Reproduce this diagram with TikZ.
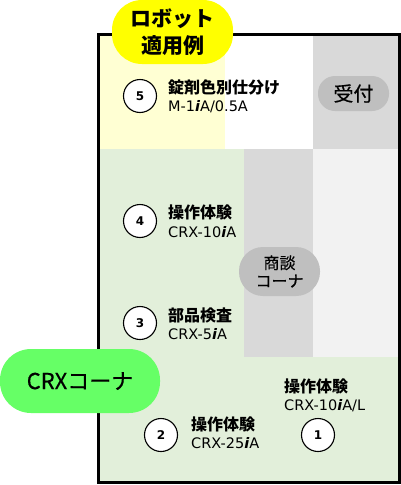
\documentclass[tikz,border=0pt]{standalone}
\usepackage{fontspec}
\setmainfont{DejaVu Sans}
\newfontfamily\jpfont{Noto Sans CJK JP}
\newfontfamily\jpmed{Noto Sans CJK JP}[FakeBold=0.4]
\definecolor{paleyellow}{HTML}{FFFFD3}
\definecolor{palegreen}{HTML}{E2EFDA}
\definecolor{zonegray}{HTML}{D9D9D9}
\definecolor{palegray}{HTML}{F2F2F2}
\definecolor{pillgray}{HTML}{BFBFBF}
\definecolor{badgeyellow}{HTML}{FFFF00}
\definecolor{crxgreen}{HTML}{66FF66}
\newcommand{\ri}{{\bfseries\itshape i}}

\begin{document}
\begin{tikzpicture}[x=1pt, y=-1pt,
    num/.style={circle, draw, line width=1.1pt, fill=white, minimum size=33pt, inner sep=0pt, font=\bfseries\fontsize{12}{12}\selectfont},
    title/.style={anchor=base west, inner sep=0pt, font=\jpfont\bfseries\fontsize{16}{16}\selectfont},
    model/.style={anchor=base west, inner sep=0pt, font=\fontsize{14.5}{14.5}\selectfont},
    pill/.style={rounded corners=#1, inner sep=0pt, align=center}
]
\useasboundingbox (0,0) rectangle (400,485);

% Floor zones
\fill[paleyellow] (98,34) rectangle (225,149);
\fill[white] (225,34) rectangle (313,149);
\fill[zonegray] (313,34) rectangle (399,149);
\fill[palegreen] (98,149) -- (244,149) -- (244,357) -- (399,357) -- (399,482) -- (98,482) -- cycle;
\fill[zonegray] (244,149) rectangle (313,357);
\fill[palegray] (313,149) rectangle (399,357);

% Booth outline
\draw[line width=3pt] (98,34) rectangle (399,482);

% Corner badges
\node[pill=30pt, fill=badgeyellow, minimum width=121pt, minimum height=64pt,
      font=\jpfont\bfseries\fontsize{21}{27}\selectfont] (robot) at (172.5,32) {ロボット\\適用例};
\node[pill=17pt, fill=pillgray, minimum width=71pt, minimum height=35pt,
      font=\jpmed\fontsize{20}{20}\selectfont] (reception) at (353.5,93.5) {受付};
\node[pill=24pt, fill=pillgray, minimum width=81pt, minimum height=49pt,
      font=\jpmed\fontsize{16}{18}\selectfont] (meeting) at (279.5,271.5) {商談\\コーナ};
\node[pill=31pt, fill=crxgreen, minimum width=160pt, minimum height=64pt,
      font=\jpmed\fontsize{22}{22}\selectfont] (crx) at (80,381) {CRXコーナ};

% Exhibits
\node[num] (n5) at (140,96) {5};
\node[title] (t5) at (168,93) {錠剤色別仕分け};
\node[model] (m5) at (168,111) {M-1\ri A/0.5A};

\node[num] (n4) at (140,221) {4};
\node[title] (t4) at (168,218) {操作体験};
\node[model] (m4) at (168,237) {CRX-10\ri A};

\node[num] (n3) at (140,323) {3};
\node[title] (t3) at (168,321) {部品検査};
\node[model] (m3) at (168,339) {CRX-5\ri A};

\node[num] (n2) at (161,435) {2};
\node[title] (t2) at (191,430) {操作体験};
\node[model] (m2) at (191,448) {CRX-25\ri A};

\node[num] (n1) at (318,435) {1};
\node[title] (t1) at (284,392) {操作体験};
\node[model] (m1) at (284,410) {CRX-10\ri A/L};

\end{tikzpicture}
\end{document}
